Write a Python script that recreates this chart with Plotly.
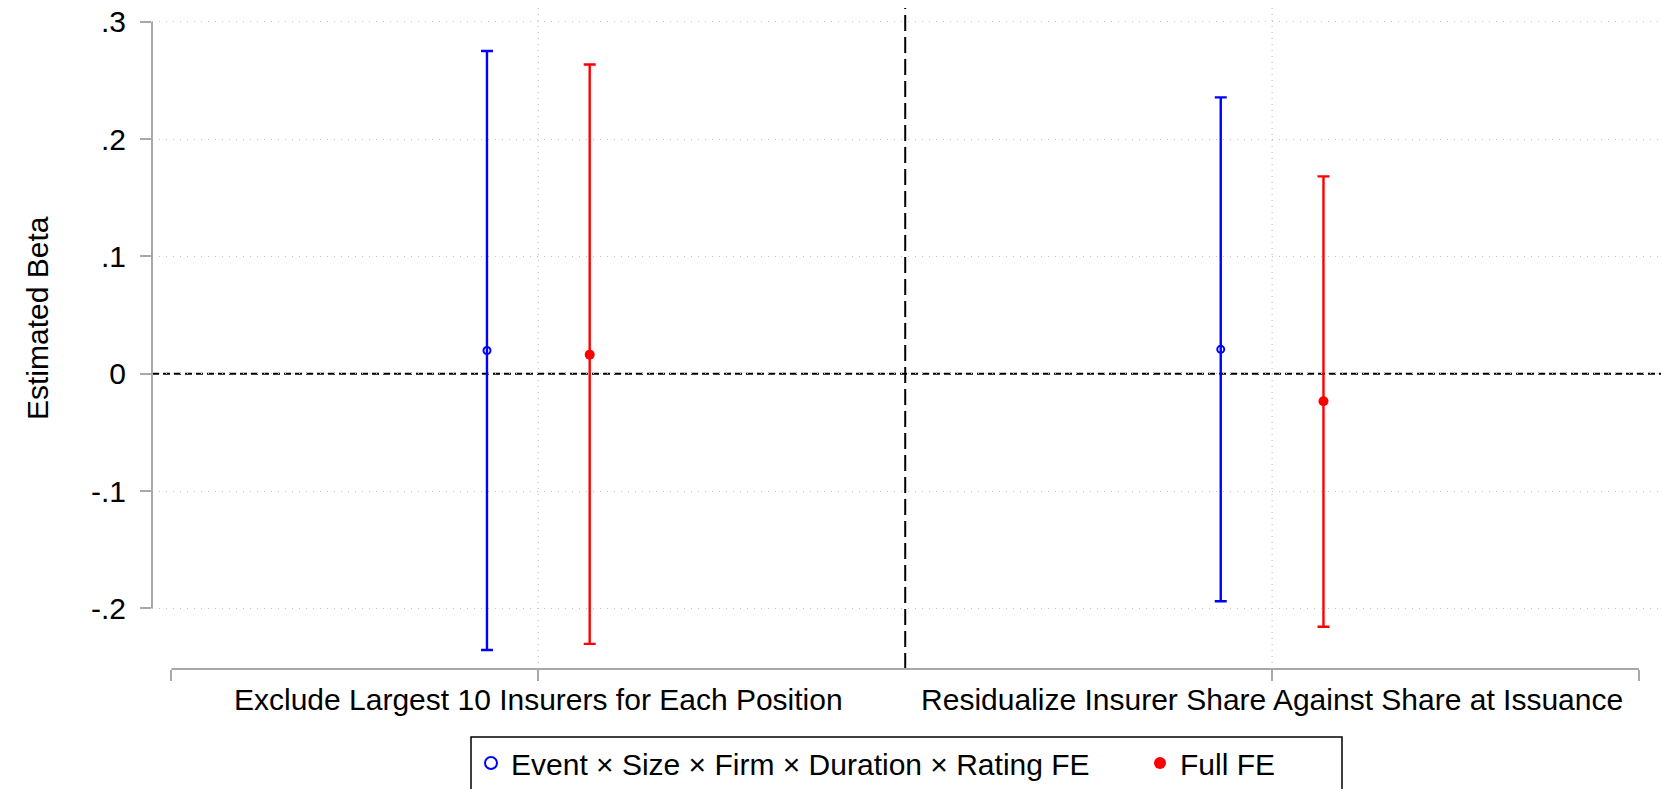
import plotly.graph_objects as go

# ---- data ----
categories = ["Exclude Largest 10 Insurers for Each Position",
              "Residualize Insurer Share Against Share at Issuance"]
series_names = ["Event × Size × Firm × Duration × Rating FE", "Full FE"]

blue_est = [0.0198, 0.0208]
blue_lo = [-0.2355, -0.1940]
blue_hi = [0.2752, 0.2356]

red_est = [0.0163, -0.0235]
red_lo = [-0.2303, -0.2157]
red_hi = [0.2636, 0.1683]

ytick_vals = [0.3, 0.2, 0.1, 0.0, -0.1, -0.2]
ytick_text = [".3", ".2", ".1", "0", "-.1", "-.2"]

# ---- layout helpers ----
FONT = "Liberation Sans, Arial, Helvetica, sans-serif"
FS = 30
GRAY = "#a8a8a8"
GRID = "#c4c4c4"
W, H = 1661, 789
PL, PR, PT, PB = 152, 1661, 8, 669  # plot area in window pixels
ML, MR, MT, MB = PL, W - PR, PT, H - PB
PW, PH = PR - PL, PB - PT
offset = 0.14
cat_pos = [2 * i + 1 for i in range(len(categories))]
x_axis_ends = [0, 2 * len(categories)]


def px_x(p):
    return (p - PL) / PW


def px_y(p):
    return (PB - p) / PH


fig = go.Figure()

series = [
    (series_names[0], blue_est, blue_lo, blue_hi, -offset, "#0000ff",
     dict(symbol="circle-open", size=7, line=dict(width=2, color="#0000ff")), 624),
    (series_names[1], red_est, red_lo, red_hi, offset, "#ff0000",
     dict(symbol="circle", size=10), None),
]
for name, est, lo, hi, off, col, mk, lw in series:
    kw = dict(legendwidth=lw) if lw else {}
    fig.add_trace(go.Scatter(
        x=[p + off for p in cat_pos], y=est, mode="markers", name=name,
        marker=dict(color=col, **mk),
        error_y=dict(type="data", symmetric=False,
                     array=[h - e for h, e in zip(hi, est)],
                     arrayminus=[e - l for e, l in zip(est, lo)],
                     color=col, thickness=2.4, width=6),
        cliponaxis=False, **kw,
    ))

shapes = []
for p in cat_pos:
    shapes.append(dict(type="line", xref="x", yref="paper", x0=p, x1=p, y0=0, y1=1,
                       line=dict(color=GRID, width=1.2, dash="1px,5px"), layer="below"))
shapes.append(dict(type="line", xref="paper", yref="y", x0=0, x1=1, y0=0, y1=0,
                   line=dict(color="black", width=2, dash="7px,4px"), layer="between"))
shapes.append(dict(type="line", xref="x", yref="paper", x0=2, x1=2, y0=0, y1=1,
                   line=dict(color="black", width=2, dash="16px,6px"), layer="between"))
shapes.append(dict(type="line", xref="x", yref="paper", x0=x_axis_ends[0], x1=x_axis_ends[1],
                   y0=0, y1=0, line=dict(color=GRAY, width=2), layer="above"))
shapes.append(dict(type="line", xref="paper", yref="y", x0=0, x1=0,
                   y0=max(ytick_vals), y1=min(ytick_vals),
                   line=dict(color=GRAY, width=2), layer="above"))
# legend frame
shapes.append(dict(type="rect", xref="paper", yref="paper",
                   x0=px_x(471), x1=px_x(1342), y0=px_y(737), y1=px_y(800),
                   line=dict(color="black", width=1.5), fillcolor="rgba(0,0,0,0)",
                   layer="above"))

fig.update_layout(
    width=W, height=H,
    margin=dict(l=ML, r=MR, t=MT, b=MB, autoexpand=False),
    paper_bgcolor="white", plot_bgcolor="white",
    font=dict(family=FONT, size=FS, color="black"),
    shapes=shapes,
    showlegend=True,
    legend=dict(orientation="h", x=px_x(471), xanchor="left", y=px_y(737), yanchor="top",
                borderwidth=0, bgcolor="rgba(0,0,0,0)",
                font=dict(size=FS), itemsizing="constant"),
    annotations=[dict(text="Estimated Beta", textangle=-90, xref="paper", yref="paper",
                      x=px_x(37), y=px_y(318), xanchor="center", yanchor="middle",
                      showarrow=False, font=dict(size=FS))],
    xaxis=dict(range=[-0.053, 4.06], tickvals=[x_axis_ends[0]] + cat_pos + [x_axis_ends[1]],
               ticktext=[""] + categories + [""], showgrid=False, zeroline=False,
               showline=False, ticks="outside", ticklen=11, tickwidth=2, tickcolor=GRAY,
               ticklabelstandoff=-7, ticklabeloverflow="allow", automargin=False,
               tickfont=dict(size=FS)),
    yaxis=dict(range=[-0.2517, 0.3118], tickvals=ytick_vals, ticktext=ytick_text,
               showgrid=True, gridcolor=GRID, griddash="1px,6px", gridwidth=1.2,
               zeroline=False, showline=False, ticks="outside", ticklen=11, tickwidth=2,
               tickcolor=GRAY, ticklabelstandoff=8, ticklabeloverflow="allow",
               automargin=False, tickfont=dict(size=FS)),
)

fig.write_html("out.html", config={"displayModeBar": False},
               post_script="document.body.style.margin='0';document.body.style.overflow='hidden';")
